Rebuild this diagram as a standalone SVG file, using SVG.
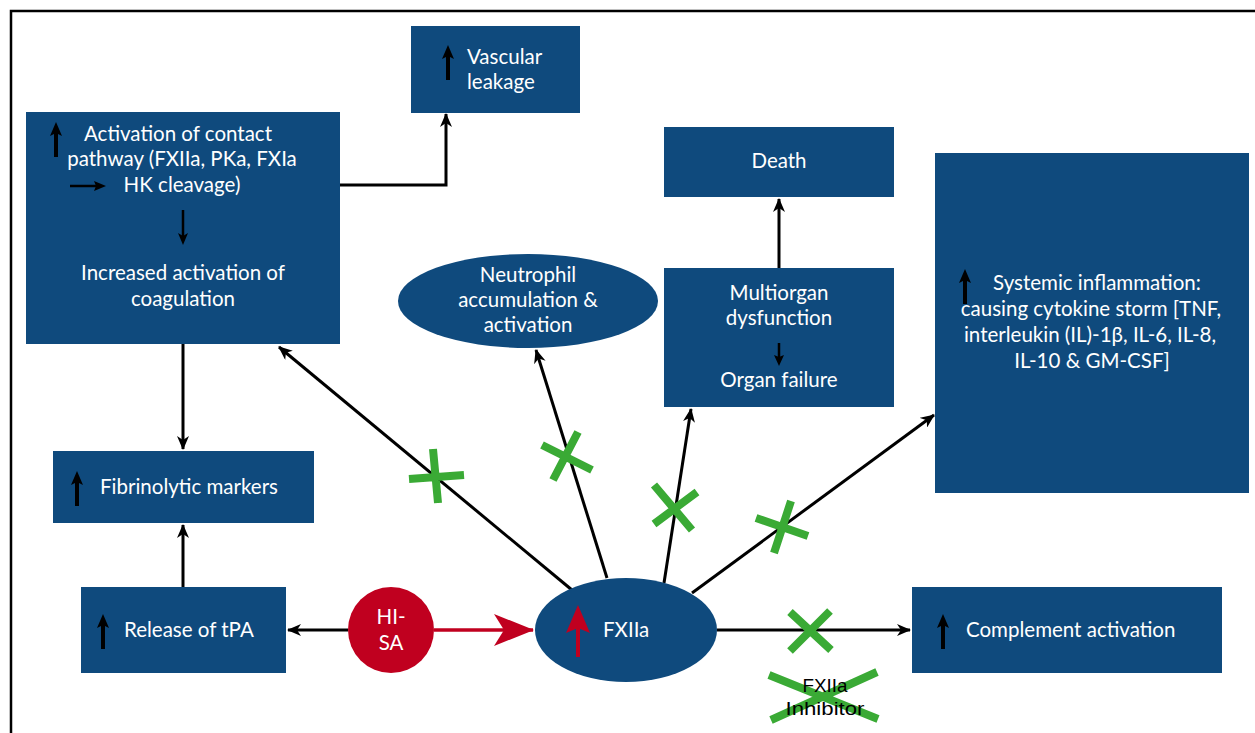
<svg xmlns="http://www.w3.org/2000/svg" width="1255" height="733" viewBox="0 0 1255 733">
<defs>
<style>
.box{fill:#0F4A7D}
.t{font-family:Lato,"Open Sans",sans-serif;font-size:20.5px;fill:#ffffff}
.tc{text-anchor:middle}
.con{stroke:#000;stroke-width:3;fill:none}
.grn{stroke:#3AAA35;stroke-width:8;fill:none}
.inh{font-family:"Liberation Sans",Arial,sans-serif;font-size:19px;fill:#000;text-anchor:middle}
</style>
<marker id="ah" viewBox="0 0 14 12" refX="13" refY="6" markerWidth="14" markerHeight="12" markerUnits="userSpaceOnUse" orient="auto">
<path d="M0,0 L14,6 L0,12 L4,6 z" fill="#000"/>
</marker>
<marker id="ahr" viewBox="0 0 40 32" refX="39" refY="16" markerWidth="40" markerHeight="32" markerUnits="userSpaceOnUse" orient="auto">
<path d="M0,0 L40,16 L0,32 L10,16 z" fill="#C0001F"/>
</marker>
<g id="up">
<path d="M0,0 L-6,14 L0,11 L6,14 z" fill="#000"/>
<line x1="0" y1="10" x2="0" y2="35" stroke="#000" stroke-width="4"/>
</g>
</defs>
<rect x="0" y="0" width="1255" height="733" fill="#fff"/>
<rect x="11" y="11" width="1260" height="740" fill="none" stroke="#000" stroke-width="2.5"/>

<g id="connectors">
<polyline class="con" points="340,185 446,185 446,114" marker-end="url(#ah)"/>
<line class="con" x1="183" y1="344" x2="183" y2="449" marker-end="url(#ah)"/>
<line class="con" x1="183" y1="587" x2="183" y2="525" marker-end="url(#ah)"/>
<line class="con" x1="348" y1="630" x2="288" y2="630" marker-end="url(#ah)"/>
<line x1="434" y1="630" x2="533" y2="630" stroke="#C0001F" stroke-width="3.5" marker-end="url(#ahr)"/>
<line class="con" x1="572" y1="590" x2="279" y2="347" marker-end="url(#ah)"/>
<line class="con" x1="607" y1="578" x2="536" y2="350" marker-end="url(#ah)"/>
<line class="con" x1="664" y1="583" x2="691" y2="409" marker-end="url(#ah)"/>
<line class="con" x1="692" y1="593" x2="934" y2="415" marker-end="url(#ah)"/>
<line class="con" x1="717" y1="630" x2="910" y2="630" marker-end="url(#ah)"/>
<line class="con" x1="779" y1="268" x2="779" y2="199" marker-end="url(#ah)"/>
</g>

<g id="blocks">
<path class="grn" d="M409,479 L464,475 M433,449 L438,503"/>
<path class="grn" d="M542,445 L592,470 M578,432 L553,480"/>
<path class="grn" d="M654,485 L692,530 M697,492 L654,524"/>
<path class="grn" d="M756,518 L808,536 M791,501 L774,553"/>
<path class="grn" d="M790,612 L831,650 M830,611 L790,651"/>
</g>

<g id="vascular">
<rect class="box" x="411" y="26" width="169" height="87"/>
<use href="#up" x="448" y="45"/>
<text class="t" x="467" y="64">Vascular</text>
<text class="t" x="467" y="89">leakage</text>
</g>

<g id="contact">
<rect class="box" x="26" y="112" width="314" height="232"/>
<use href="#up" x="56" y="122"/>
<line x1="70" y1="186" x2="98" y2="186" stroke="#000" stroke-width="2.5"/>
<path d="M106,186 L94,181 L96,186 L94,191 z" fill="#000"/>
<line x1="183" y1="210" x2="183" y2="236" stroke="#000" stroke-width="2.5"/>
<path d="M183,245 L178,233 L183,236 L188,233 z" fill="#000"/>
<text class="t tc" x="178" y="141">Activation of contact</text>
<text class="t tc" x="182" y="166">pathway (FXIIa, PKa, FXIa</text>
<text class="t tc" x="182" y="192">HK cleavage)</text>
<text class="t tc" x="183" y="280">Increased activation of</text>
<text class="t tc" x="183" y="306">coagulation</text>
</g>

<g id="death">
<rect class="box" x="664" y="127" width="230" height="70"/>
<text class="t tc" x="779" y="168">Death</text>
</g>

<g id="neutrophil">
<ellipse class="box" cx="528" cy="301" rx="130" ry="47"/>
<text class="t tc" x="528" y="282">Neutrophil</text>
<text class="t tc" x="528" y="307">accumulation &amp;</text>
<text class="t tc" x="528" y="332">activation</text>
</g>

<g id="multiorgan">
<rect class="box" x="664" y="268" width="230" height="139"/>
<text class="t tc" x="779" y="300">Multiorgan</text>
<text class="t tc" x="779" y="325">dysfunction</text>
<line x1="779" y1="343" x2="779" y2="358" stroke="#000" stroke-width="2.5"/>
<path d="M779,366 L774,355 L779,357 L784,355 z" fill="#000"/>
<text class="t tc" x="779" y="387">Organ failure</text>
</g>

<g id="systemic">
<rect class="box" x="935" y="153" width="314" height="340"/>
<use href="#up" x="965" y="269"/>
<text class="t tc" x="1097" y="290">Systemic inflammation:</text>
<text class="t tc" x="1091" y="316">causing cytokine storm [TNF,</text>
<text class="t tc" x="1090" y="342">interleukin (IL)-1β, IL-6, IL-8,</text>
<text class="t tc" x="1092" y="368">IL-10 &amp; GM-CSF]</text>
</g>

<g id="fibrinolytic">
<rect class="box" x="53" y="451" width="261" height="72"/>
<use href="#up" x="77" y="471"/>
<text class="t" x="100" y="494">Fibrinolytic markers</text>
</g>

<g id="tpa">
<rect class="box" x="81" y="587" width="205" height="86"/>
<use href="#up" x="103" y="614"/>
<text class="t" x="124" y="637">Release of tPA</text>
</g>

<g id="hisa">
<circle cx="391" cy="630" r="43" fill="#C0001F"/>
<text class="t tc" x="391" y="624">HI-</text>
<text class="t tc" x="391" y="650">SA</text>
</g>

<g id="fxiia">
<ellipse class="box" cx="626" cy="630" rx="91" ry="52"/>
<line x1="578" y1="625" x2="578" y2="657" stroke="#C0001F" stroke-width="4"/>
<path d="M578,605 L566,633 L578,628 L590,633 z" fill="#C0001F"/>
<text class="t" x="603" y="637">FXIIa</text>
</g>

<g id="complement">
<rect class="box" x="912" y="587" width="310" height="86"/>
<use href="#up" x="943" y="614"/>
<text class="t" x="966" y="637">Complement activation</text>
</g>

<g id="inhibitor">
<path class="grn" d="M769,675 L878,719 M771,720 L877,672"/>
<text class="inh" x="825" y="692" textLength="45" lengthAdjust="spacingAndGlyphs">FXIIa</text>
<text class="inh" x="825" y="715" textLength="79" lengthAdjust="spacingAndGlyphs">Inhibitor</text>
</g>
</svg>
